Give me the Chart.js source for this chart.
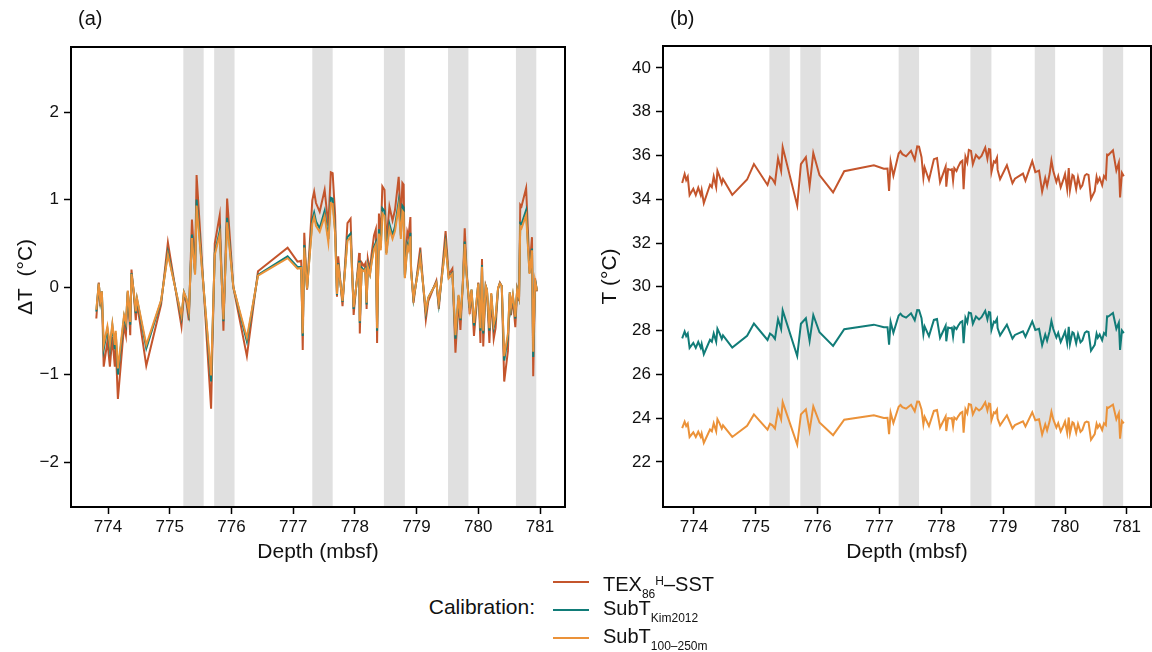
<!DOCTYPE html>
<html>
<head>
<meta charset="utf-8">
<script src="https://cdn.jsdelivr.net/npm/chart.js@4.4.1/dist/chart.umd.min.js"></script>
<style>
    body { margin: 0; background: #fff; font-family: 'Liberation Sans', Arial, sans-serif; color: #111; }
    #contenedor { position: relative; width: 1152px; height: 652px; overflow: hidden; }
    canvas { position: absolute; top: 0; }
    #graficoA { left: 0; }
    #graficoB { left: 576px; }
    .panel { position: absolute; top: 7px; font-size: 20px; }
    .etiqueta { position: absolute; font-size: 20px; line-height: 20px; white-space: nowrap; }
    .etiqueta sub { font-size: 12px; vertical-align: -7px; }
    .etiqueta sup { font-size: 12px; vertical-align: 6px; }
    .clave { position: absolute; left: 553px; width: 36px; height: 2px; }
    #calibracion { position: absolute; right: 617px; top: 596px; font-size: 21px; line-height: 21px; }
</style>
</head>
<body>
<div id="contenedor">
    <canvas id="graficoA" width="576" height="575"></canvas>
    <canvas id="graficoB" width="576" height="575"></canvas>
    <div class="panel" style="left:78px">(a)</div>
    <div class="panel" style="left:670px">(b)</div>

    <div id="calibracion">Calibration:</div>
    <div class="clave" style="top:581px; background:#c4552c"></div>
    <div class="clave" style="top:609px; background:#117c78"></div>
    <div class="clave" style="top:637px; background:#eb9239"></div>
    <div class="etiqueta" style="left:603px; top:571px">TEX<sub>86</sub><sup>H</sup>&#8211;SST</div>
    <div class="etiqueta" style="left:603px; top:598px">SubT<sub>Kim2012</sub></div>
    <div class="etiqueta" style="left:603px; top:626px">SubT<sub>100&#8211;250m</sub></div>
</div>

<script>
// Profundidad (mbsf) de cada muestra
const profundidad = [
    773.81, 773.85, 773.875, 773.90, 773.93, 773.99, 774.03, 774.07, 774.11, 774.125,
    774.16, 774.26, 774.29, 774.32, 774.36, 774.38, 774.415, 774.45, 774.47, 774.62,
    774.86, 774.97, 775.19, 775.23, 775.27, 775.31, 775.36, 775.41, 775.435, 775.67,
    775.73, 775.81, 775.87, 775.93, 776.03, 776.25, 776.43, 776.91, 777.07, 777.13,
    777.155, 777.18, 777.225, 777.31, 777.34, 777.37, 777.43, 777.51, 777.57, 777.61,
    777.64, 777.68, 777.71, 777.73, 777.80, 777.88, 777.93, 777.98, 778.07, 778.08,
    778.11, 778.15, 778.17, 778.19, 778.21, 778.245, 778.27, 778.31, 778.34, 778.36,
    778.39, 778.42, 778.445, 778.48, 778.51, 778.56, 778.61, 778.65, 778.71, 778.745,
    778.77, 778.79, 778.81, 778.85, 778.87, 778.90, 778.91, 778.95, 779.06, 779.15,
    779.19, 779.32, 779.36, 779.47, 779.52, 779.58, 779.63, 779.68, 779.71, 779.75,
    779.78, 779.81, 779.86, 779.89, 779.93, 779.97, 780.00, 780.035, 780.06, 780.08,
    780.12, 780.14, 780.18, 780.21, 780.25, 780.28, 780.32, 780.35, 780.38, 780.42,
    780.48, 780.51, 780.53, 780.56, 780.60, 780.63, 780.66, 780.68, 780.70, 780.775,
    780.83, 780.87, 780.89, 780.92, 780.95
];

// Panel (a): anomalias de temperatura (°C)
const dtTex = [
    -0.36, 0.05, -0.22, -0.07, -0.91, -0.62, -0.91, -0.57, -0.91, -0.68,
    -1.28, -0.44, -0.55, -0.06, -0.55, 0.20, -0.06, -0.38, -0.18, -0.90,
    -0.20, 0.51, -0.45, -0.08, -0.18, -0.38, 0.77, 0.19, 1.28, -1.39,
    0.50, 0.82, -0.50, 1.01, 0.00, -0.79, 0.18, 0.45, 0.29, 0.30,
    -0.72, 0.62, -0.03, 0.99, 1.09, 0.96, 0.86, 1.11, 0.70, 1.31,
    1.30, 0.82, -0.11, 0.35, -0.22, 0.73, 0.78, -0.32, 0.39, -0.53,
    0.28, 0.24, 0.27, -0.25, 0.32, 0.19, 0.37, 0.59, 0.66, -0.64,
    0.84, 0.58, 1.15, 1.11, 0.50, 0.92, 0.76, 0.88, 1.26, 0.75,
    1.19, 1.17, 0.14, 0.63, 0.58, 0.80, 0.24, -0.18, 0.45, -0.37,
    -0.16, 0.07, -0.25, 0.64, 0.14, 0.21, -0.75, -0.13, -0.49, 0.05,
    0.67, 0.19, -0.31, -0.04, -0.56, -0.23, 0.05, -0.64, 0.32, -0.68,
    0.01, -0.04, -0.64, -0.10, -0.59, -0.47, -0.02, 0.05, 0.01, -1.08,
    -0.73, -0.08, -0.32, -0.13, -0.46, -0.04, -0.16, 0.94, 0.92, 1.13,
    0.21, 0.57, -1.02, 0.10, -0.05
];
const dtKim = [
    -0.28, 0.04, -0.17, -0.05, -0.71, -0.48, -0.71, -0.44, -0.71, -0.53,
    -1.00, -0.34, -0.43, -0.05, -0.43, 0.16, -0.05, -0.30, -0.14, -0.70,
    -0.16, 0.40, -0.35, -0.06, -0.14, -0.30, 0.60, 0.15, 1.00, -1.08,
    0.39, 0.64, -0.39, 0.79, 0.00, -0.62, 0.14, 0.35, 0.23, 0.23,
    -0.56, 0.48, -0.02, 0.77, 0.85, 0.75, 0.67, 0.87, 0.55, 1.02,
    1.01, 0.64, -0.09, 0.27, -0.17, 0.57, 0.61, -0.25, 0.30, -0.41,
    0.22, 0.19, 0.21, -0.20, 0.25, 0.15, 0.29, 0.46, 0.51, -0.50,
    0.66, 0.45, 0.90, 0.87, 0.39, 0.72, 0.59, 0.69, 0.98, 0.59,
    0.93, 0.91, 0.11, 0.49, 0.45, 0.62, 0.19, -0.14, 0.35, -0.29,
    -0.12, 0.05, -0.20, 0.50, 0.11, 0.16, -0.59, -0.10, -0.38, 0.04,
    0.52, 0.15, -0.24, -0.03, -0.44, -0.18, 0.04, -0.50, 0.25, -0.53,
    0.01, -0.03, -0.50, -0.08, -0.46, -0.37, -0.02, 0.04, 0.01, -0.84,
    -0.57, -0.06, -0.25, -0.10, -0.36, -0.03, -0.12, 0.73, 0.72, 0.88,
    0.16, 0.44, -0.80, 0.08, -0.04
];
const dtSub = [
    -0.26, 0.04, -0.16, -0.05, -0.66, -0.45, -0.66, -0.42, -0.66, -0.50,
    -0.93, -0.32, -0.40, -0.04, -0.40, 0.15, -0.04, -0.28, -0.13, -0.66,
    -0.15, 0.37, -0.33, -0.06, -0.13, -0.28, 0.56, 0.14, 0.93, -1.01,
    0.37, 0.60, -0.37, 0.74, 0.00, -0.58, 0.13, 0.33, 0.21, 0.22,
    -0.53, 0.45, -0.02, 0.72, 0.80, 0.70, 0.63, 0.81, 0.51, 0.96,
    0.95, 0.60, -0.08, 0.26, -0.16, 0.53, 0.57, -0.23, 0.28, -0.39,
    0.20, 0.18, 0.20, -0.18, 0.23, 0.14, 0.27, 0.43, 0.48, -0.47,
    0.61, 0.42, 0.84, 0.81, 0.37, 0.67, 0.55, 0.64, 0.92, 0.55,
    0.87, 0.85, 0.10, 0.46, 0.42, 0.58, 0.18, -0.13, 0.33, -0.27,
    -0.12, 0.05, -0.18, 0.47, 0.10, 0.15, -0.55, -0.09, -0.36, 0.04,
    0.49, 0.14, -0.23, -0.03, -0.41, -0.17, 0.04, -0.47, 0.23, -0.50,
    0.01, -0.03, -0.47, -0.07, -0.43, -0.34, -0.01, 0.04, 0.01, -0.79,
    -0.53, -0.06, -0.23, -0.09, -0.34, -0.03, -0.12, 0.69, 0.67, 0.82,
    0.15, 0.42, -0.74, 0.07, -0.04
];

// Panel (b): temperaturas absolutas (°C)
const tTex = [
    34.74, 35.15, 34.88, 35.03, 34.19, 34.48, 34.19, 34.53, 34.19, 34.42,
    33.82, 34.66, 34.55, 35.04, 34.55, 35.30, 35.04, 34.72, 34.92, 34.20,
    34.90, 35.61, 34.65, 35.02, 34.92, 34.72, 35.87, 35.29, 36.38, 33.71,
    35.60, 35.92, 34.60, 36.11, 35.10, 34.31, 35.28, 35.55, 35.39, 35.40,
    34.38, 35.72, 35.07, 36.09, 36.19, 36.06, 35.96, 36.21, 35.80, 36.41,
    36.40, 35.92, 34.99, 35.45, 34.88, 35.83, 35.88, 34.78, 35.49, 34.57,
    35.38, 35.34, 35.37, 34.85, 35.42, 35.29, 35.47, 35.69, 35.76, 34.46,
    35.94, 35.68, 36.25, 36.21, 35.60, 36.02, 35.86, 35.98, 36.36, 35.85,
    36.29, 36.27, 35.24, 35.73, 35.68, 35.90, 35.34, 34.92, 35.55, 34.73,
    34.94, 35.17, 34.85, 35.74, 35.24, 35.31, 34.35, 34.97, 34.61, 35.15,
    35.77, 35.29, 34.79, 35.06, 34.54, 34.87, 35.15, 34.46, 35.42, 34.42,
    35.11, 35.06, 34.46, 35.00, 34.51, 34.63, 35.08, 35.15, 35.11, 34.02,
    34.37, 35.02, 34.78, 34.97, 34.64, 35.06, 34.94, 36.04, 36.02, 36.23,
    35.31, 35.67, 34.08, 35.20, 35.05
];
const tKim = [
    27.64, 27.96, 27.75, 27.87, 27.21, 27.44, 27.21, 27.48, 27.21, 27.39,
    26.92, 27.58, 27.49, 27.87, 27.49, 28.08, 27.87, 27.62, 27.78, 27.22,
    27.76, 28.32, 27.57, 27.86, 27.78, 27.62, 28.52, 28.07, 28.92, 26.84,
    28.31, 28.56, 27.53, 28.71, 27.92, 27.30, 28.06, 28.27, 28.15, 28.15,
    27.36, 28.40, 27.90, 28.69, 28.77, 28.67, 28.59, 28.79, 28.47, 28.94,
    28.93, 28.56, 27.83, 28.19, 27.75, 28.49, 28.53, 27.67, 28.22, 27.51,
    28.14, 28.11, 28.13, 27.72, 28.17, 28.07, 28.21, 28.38, 28.43, 27.42,
    28.58, 28.37, 28.82, 28.79, 28.31, 28.64, 28.51, 28.61, 28.90, 28.51,
    28.85, 28.83, 28.03, 28.41, 28.37, 28.54, 28.11, 27.78, 28.27, 27.63,
    27.80, 27.97, 27.72, 28.42, 28.03, 28.08, 27.33, 27.82, 27.54, 27.96,
    28.44, 28.07, 27.68, 27.89, 27.48, 27.74, 27.96, 27.42, 28.17, 27.39,
    27.93, 27.89, 27.42, 27.84, 27.46, 27.55, 27.90, 27.96, 27.93, 27.08,
    27.35, 27.86, 27.67, 27.82, 27.56, 27.89, 27.80, 28.65, 28.64, 28.80,
    28.08, 28.36, 27.12, 28.00, 27.88
];
const tSub = [
    23.54, 23.84, 23.64, 23.75, 23.14, 23.35, 23.14, 23.38, 23.14, 23.30,
    22.87, 23.48, 23.40, 23.76, 23.40, 23.95, 23.76, 23.52, 23.67, 23.14,
    23.65, 24.17, 23.47, 23.74, 23.67, 23.52, 24.36, 23.94, 24.73, 22.79,
    24.17, 24.40, 23.43, 24.54, 23.80, 23.22, 23.93, 24.13, 24.01, 24.02,
    23.27, 24.25, 23.78, 24.52, 24.60, 24.50, 24.43, 24.61, 24.31, 24.76,
    24.75, 24.40, 23.72, 24.06, 23.64, 24.33, 24.37, 23.57, 24.08, 23.41,
    24.00, 23.98, 24.00, 23.62, 24.03, 23.94, 24.07, 24.23, 24.28, 23.33,
    24.41, 24.22, 24.64, 24.61, 24.17, 24.47, 24.35, 24.44, 24.72, 24.35,
    24.67, 24.65, 23.90, 24.26, 24.22, 24.38, 23.98, 23.67, 24.13, 23.53,
    23.68, 23.85, 23.62, 24.27, 23.90, 23.95, 23.25, 23.71, 23.44, 23.84,
    24.29, 23.94, 23.57, 23.77, 23.39, 23.63, 23.84, 23.33, 24.03, 23.30,
    23.81, 23.77, 23.33, 23.73, 23.37, 23.46, 23.79, 23.84, 23.81, 23.01,
    23.27, 23.74, 23.57, 23.71, 23.46, 23.77, 23.68, 24.49, 24.47, 24.62,
    23.95, 24.22, 23.06, 23.87, 23.76
];

// Intervalos sombreados (mbsf)
const bandaInicio = [775.22, 775.72, 777.31, 778.47, 779.51, 780.61];
const bandaFin = [775.55, 776.05, 777.64, 778.81, 779.84, 780.94];

// Marcas de los ejes
const ticksX = [774, 775, 776, 777, 778, 779, 780, 781];
const ticksYA = [-2, -1, 0, 1, 2];
const ticksYB = [22, 24, 26, 28, 30, 32, 34, 36, 38, 40];

const colores = { tex: '#c4552c', kim: '#117c78', sub: '#eb9239' };
const fuente = "'Liberation Sans', Arial, sans-serif";

// Sombreado de intervalos y marco del panel
const bandasPlugin = {
    id: 'bandas',
    beforeDatasetsDraw(chart) {
        const { ctx, chartArea, scales } = chart;
        ctx.save();
        ctx.fillStyle = '#e0e0e0';
        for (let i = 0; i < bandaInicio.length; i++) {
            const x0 = scales.x.getPixelForValue(bandaInicio[i]);
            const x1 = scales.x.getPixelForValue(bandaFin[i]);
            ctx.fillRect(x0, chartArea.top, x1 - x0, chartArea.bottom - chartArea.top);
        }
        ctx.restore();
    },
    afterDraw(chart) {
        const { ctx, chartArea } = chart;
        ctx.save();
        ctx.strokeStyle = '#000';
        ctx.lineWidth = 2;
        ctx.strokeRect(chartArea.left, chartArea.top, chartArea.right - chartArea.left, chartArea.bottom - chartArea.top);
        ctx.restore();
    }
};

function serie(valores) {
    return profundidad.map((p, i) => ({ x: p, y: valores[i] }));
}

function crearPanel(id, cfg) {
    const canvas = document.getElementById(id);
    const ctx = canvas.getContext('2d');
    return new Chart(ctx, {
        type: 'line',
        data: {
            datasets: [
                { label: 'TEX86H-SST', data: serie(cfg.tex), borderColor: colores.tex, order: 3 },
                { label: 'SubT Kim2012', data: serie(cfg.kim), borderColor: colores.kim, order: 2 },
                { label: 'SubT 100-250m', data: serie(cfg.sub), borderColor: colores.sub, order: 1 }
            ]
        },
        options: {
            responsive: false,
            animation: false,
            devicePixelRatio: 1,
            layout: { padding: { left: 0, top: cfg.arriba, right: cfg.derecha, bottom: 0 } },
            elements: {
                line: { borderWidth: 2, tension: 0 },
                point: { radius: 0 }
            },
            plugins: {
                legend: { display: false },
                tooltip: { enabled: false }
            },
            scales: {
                x: {
                    type: 'linear',
                    min: cfg.xMin,
                    max: cfg.xMax,
                    afterBuildTicks: s => { s.ticks = ticksX.map(v => ({ value: v })); },
                    afterFit: s => { s.height = 575 - 507; },
                    grid: { drawOnChartArea: false, drawTicks: true, tickLength: 7, tickColor: '#000', tickWidth: 1.5 },
                    border: { display: false },
                    ticks: { color: '#111', font: { family: fuente, size: 17 }, padding: 3, maxRotation: 0, autoSkip: false },
                    title: { display: true, text: 'Depth (mbsf)', color: '#111', font: { family: fuente, size: 21 }, padding: { top: 0, bottom: 10 } }
                },
                y: {
                    min: cfg.yMin,
                    max: cfg.yMax,
                    afterBuildTicks: s => { s.ticks = cfg.ticksY.map(v => ({ value: v })); },
                    afterFit: s => { s.width = cfg.anchoY; },
                    grid: { drawOnChartArea: false, drawTicks: true, tickLength: 7, tickColor: '#000', tickWidth: 1.5 },
                    border: { display: false },
                    ticks: {
                        color: '#111', font: { family: fuente, size: 17 }, padding: 5,
                        callback: v => String(v).replace('-', '\u2212')
                    },
                    title: { display: true, text: cfg.tituloY, color: '#111', font: { family: fuente, size: 21 }, padding: { top: cfg.padTitulo, bottom: 0 } }
                }
            }
        },
        plugins: [bandasPlugin]
    });
}

crearPanel('graficoA', {
    tex: dtTex, kim: dtKim, sub: dtSub,
    xMin: 773.40, xMax: 781.405, yMin: -2.514, yMax: 2.743,
    ticksY: ticksYA, anchoY: 71, arriba: 47, derecha: 11, padTitulo: 14,
    tituloY: '\u0394T  (\u00B0C)'
});

crearPanel('graficoB', {
    tex: tTex, kim: tKim, sub: tSub,
    xMin: 773.50, xMax: 781.39, yMin: 19.94, yMax: 41.0,
    ticksY: ticksYB, anchoY: 87, arriba: 46, derecha: 1, padTitulo: 22,
    tituloY: 'T (\u00B0C)'
});
</script>
</body>
</html>
